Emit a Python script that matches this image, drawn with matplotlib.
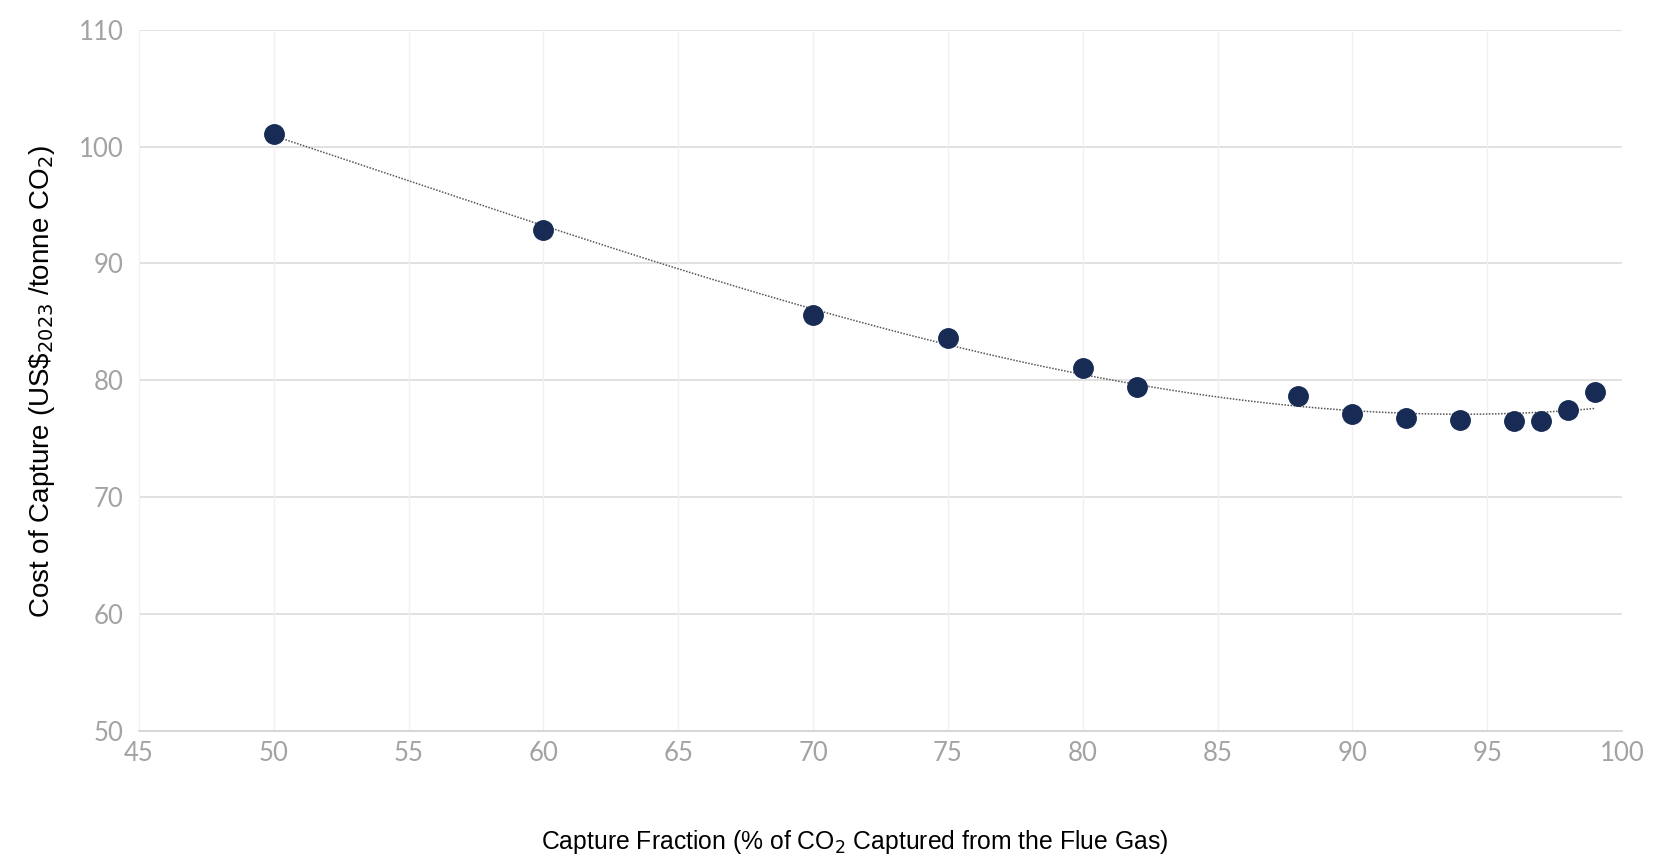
import numpy as np
import matplotlib.pyplot as plt

# capture fraction (%) and cost of capture (US$2023/t CO2)
capture = [50, 60, 70, 75, 80, 82, 88, 90, 92, 94, 96, 97, 98, 99]
cost = [101.1, 92.9, 85.6, 83.6, 81.1, 79.4, 78.7, 77.1, 76.8, 76.6, 76.5, 76.5, 77.5, 79.0]

xticks = [45, 50, 55, 60, 65, 70, 75, 80, 85, 90, 95, 100]
yticks = [50, 60, 70, 80, 90, 100, 110]

NAVY = '#172b54'
GREY = '#a3a3a3'

fig = plt.figure(figsize=(16.61, 8.56), dpi=100)
ax = fig.add_axes([0.0837, 0.146, 0.8928, 0.8193])

# polynomial trendline through the points
coef = np.polyfit(capture, cost, 3)
xs = np.linspace(min(capture), max(capture), 200)
ax.plot(xs, np.polyval(coef, xs), color='#555555', linestyle=(0, (1, 1)), linewidth=1.1, zorder=2)
ax.plot(capture, cost, 'o', color=NAVY, markersize=14, zorder=3)

ax.set_xlim(45, 100)
ax.set_ylim(50, 110)
ax.set_xticks(xticks)
ax.set_yticks(yticks)
ax.tick_params(length=0, labelsize=18.5, labelcolor=GREY)
ax.tick_params(axis='y', pad=11)
ax.tick_params(axis='x', pad=7)
for lab in ax.get_xticklabels() + ax.get_yticklabels():
	lab.set_family('Lato')

ax.grid(axis='x', color='#f0f0f0', linewidth=1)
for y in yticks[1:]:
	ax.axhline(y, color='#dcdcdc', linewidth=1.2, zorder=0)
ax.set_axisbelow(True)
for s in ['top', 'right', 'left']:
	ax.spines[s].set_visible(False)
ax.spines['bottom'].set_color('#d0d0d0')
ax.spines['bottom'].set_linewidth(1.2)

fig.text(0.0255, 0.554, r'Cost of Capture (US\$$_{2023}$ /tonne CO$_2$)', rotation=90,
	ha='center', va='center', fontsize=20, family='Liberation Sans', color='black')
fig.text(0.5148, 0.0164, r'Capture Fraction (% of CO$_2$ Captured from the Flue Gas)',
	ha='center', va='center', fontsize=17.8, family='Liberation Sans', color='black')

fig.savefig('out.png', dpi=100)
